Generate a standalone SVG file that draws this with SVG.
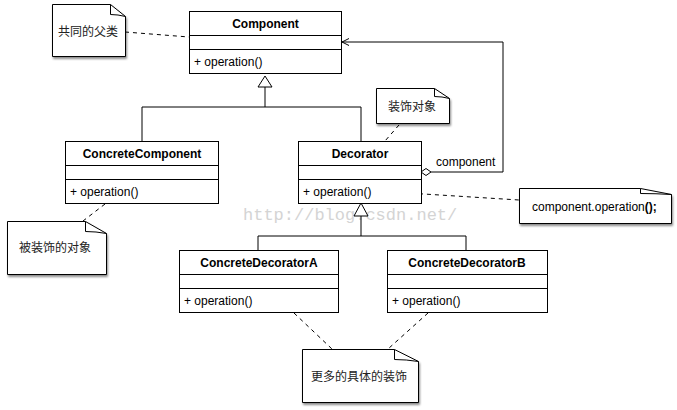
<svg xmlns="http://www.w3.org/2000/svg" width="677" height="410" viewBox="0 0 677 410">
<style>
.box{fill:#fff;stroke:#000;stroke-width:1}
.ln{fill:none;stroke:#000;stroke-width:1}
.dash{fill:none;stroke:#000;stroke-width:1;stroke-dasharray:4,4}
.title{font-family:"Liberation Sans",Arial,sans-serif;font-size:12px;font-weight:bold;text-anchor:middle}
.op{font-family:"Liberation Sans",Arial,sans-serif;font-size:12px}
.note{fill:#fff;stroke:#000;stroke-width:1;filter:url(#sh)}
.cjk{font-family:"Noto Sans CJK SC","Liberation Sans",sans-serif;font-size:12px;text-anchor:middle;fill:#222}
.wm{font-family:"Liberation Mono","DejaVu Sans Mono",monospace;font-size:17px;fill:#d4d4d4}
</style>
<defs>
<filter id="sh" x="-10%" y="-10%" width="125%" height="130%">
<feDropShadow dx="1" dy="2" stdDeviation="1.2" flood-color="#000" flood-opacity="0.45"/>
</filter>
</defs>
<rect width="677" height="410" fill="#fff"/>
<text class="wm" x="243" y="220">http://blog.csdn.net/</text>
<g id="connectors">
<line class="dash" x1="125" y1="32" x2="189" y2="37"/>
<path class="ln" d="M265,87 V107 M142,107 H361 M142,107 V141 M361,107 V141"/>
<path class="ln" d="M265,76 L258,87 H272 Z" fill="#fff"/>
<path class="ln" d="M361,216 V236 M258,236 H466 M258,236 V250 M466,236 V250"/>
<path d="M361,203 L354,216 H368 Z" fill="#fff" stroke="#000"/>
<path class="ln" d="M431,172 H503 V42 H342"/>
<path d="M421,172 L426,168.5 L431,172 L426,175.5 Z" fill="#fff" stroke="#000"/>
<path class="ln" d="M349,38.5 L342,42 L349,45.5"/>
<text class="op" x="436" y="166">component</text>
<line class="dash" x1="399" y1="125" x2="385" y2="141"/>
<circle cx="391" cy="192" r="3" fill="#fff" stroke="#000"/>
<line class="dash" x1="395" y1="192.2" x2="519" y2="200"/>
<line class="dash" x1="105" y1="204" x2="83" y2="221"/>
<line class="dash" x1="294" y1="313" x2="332" y2="349"/>
<line class="dash" x1="428" y1="313" x2="388" y2="349"/>
</g>
<g id="Component">
<rect class="box" x="189.5" y="11.5" width="152" height="62"/>
<path class="ln" d="M189.5,35.5 H341.5 M189.5,49.5 H341.5"/>
<text class="title" x="265.5" y="28">Component</text>
<text class="op" x="194" y="66">+ operation()</text>
</g>
<g id="ConcreteComponent">
<rect class="box" x="65.5" y="141.5" width="153" height="62"/>
<path class="ln" d="M65.5,165.5 H218.5 M65.5,179.5 H218.5"/>
<text class="title" x="142" y="158">ConcreteComponent</text>
<text class="op" x="70" y="196">+ operation()</text>
</g>
<g id="Decorator">
<rect class="box" x="298.5" y="141.5" width="123" height="62"/>
<path class="ln" d="M298.5,165.5 H421.5 M298.5,179.5 H421.5"/>
<text class="title" x="360" y="158">Decorator</text>
<text class="op" x="303" y="196">+ operation()</text>
</g>
<g id="ConcreteDecoratorA">
<rect class="box" x="179.5" y="250.5" width="159" height="62"/>
<path class="ln" d="M179.5,274.5 H338.5 M179.5,288.5 H338.5"/>
<text class="title" x="259" y="267">ConcreteDecoratorA</text>
<text class="op" x="184" y="305">+ operation()</text>
</g>
<g id="ConcreteDecoratorB">
<rect class="box" x="387.5" y="250.5" width="160" height="62"/>
<path class="ln" d="M387.5,274.5 H547.5 M387.5,288.5 H547.5"/>
<text class="title" x="467" y="267">ConcreteDecoratorB</text>
<text class="op" x="392" y="305">+ operation()</text>
</g>
<g id="note1">
<path class="note" d="M52.5,4.5 H110.5 L125.5,16.5 V56.5 H52.5 Z"/>
<path class="ln" d="M110.5,4.5 V14.5 Q118,14.5 125.5,16.5"/>
<text class="cjk" x="88" y="36">共同的父类</text>
</g>
<g id="note2">
<path class="note" d="M376.5,88.5 H434.5 L449.5,98.5 V123.5 H376.5 Z"/>
<path class="ln" d="M434.5,88.5 V96.5 Q442,96.5 449.5,98.5"/>
<text class="cjk" x="412" y="111">装饰对象</text>
</g>
<g id="note3">
<path class="note" d="M519.5,188.5 H640.5 L671.5,194.5 V223.5 H519.5 Z"/>
<path class="ln" d="M640.5,188.5 V193.5 Q656,193.5 671.5,194.5"/>
<text class="op" x="532" y="211">component.operation<tspan font-weight="bold">();</tspan></text>
</g>
<g id="note4">
<path class="note" d="M7.5,221.5 H85.5 L106.5,233.5 V274.5 H7.5 Z"/>
<path class="ln" d="M85.5,221.5 V231.5 Q96,231.5 106.5,233.5"/>
<text class="cjk" x="55" y="252">被装饰的对象</text>
</g>
<g id="note5">
<path class="note" d="M302.5,349.5 H394.5 L418.5,361.5 V402.5 H302.5 Z"/>
<path class="ln" d="M394.5,349.5 V359.5 Q406,359.5 418.5,361.5"/>
<text class="cjk" x="359" y="381">更多的具体的装饰</text>
</g>
</svg>
